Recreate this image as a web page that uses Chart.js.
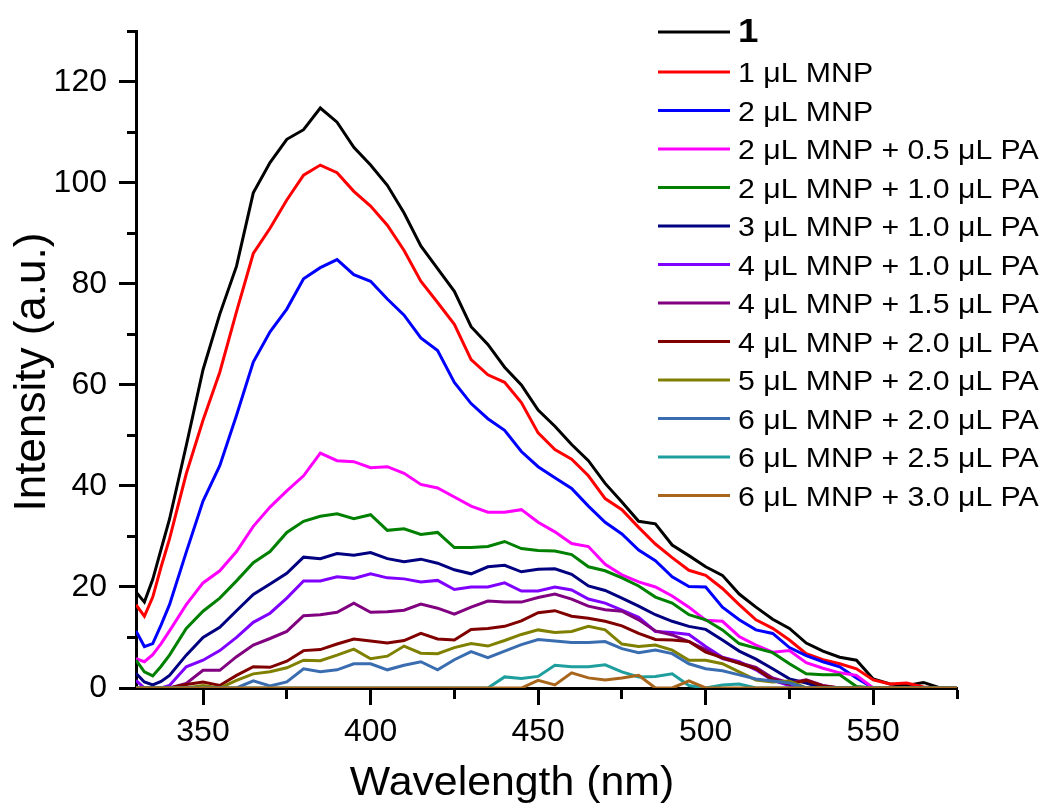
<!DOCTYPE html>
<html>
<head>
<meta charset="utf-8">
<script src="https://cdn.jsdelivr.net/npm/chart.js@4.4.1/dist/chart.umd.min.js"></script>
<style>
  html, body { margin: 0; padding: 0; background: #fff; }
  #wrap { width: 1044px; height: 808px; }
</style>
</head>
<body>
<div id="wrap"><canvas id="spectra" width="1044" height="808"></canvas></div>
<script>
// Emission spectra, values (nm / a.u.)

var wavelengths = [330, 332.5, 335, 337.5, 340, 345, 350, 355, 360, 365, 370, 375, 380, 385, 390, 395,
  400, 405, 410, 415, 420, 425, 430, 435, 440, 445, 450, 455, 460, 465, 470, 475, 480, 485, 490, 495,
  500, 505, 510, 515, 520, 525, 530, 535, 540, 545, 550, 555, 560, 565, 570, 575];

var pure = [19, 17, 21.5, 27.5, 33.4, 48, 63, 74, 83.5, 98, 104, 108.6, 110.5, 114.8, 112, 107,
  103.5, 99.5, 94, 87.5, 83, 78.5, 71.5, 68, 63.5, 60, 55, 51.8, 48.2, 45, 40.5, 36.8, 33, 32.5, 28.3, 26.2,
  24, 22.3, 18.6, 16, 13.6, 11.8, 8.9, 7.3, 6.1, 5.5, 1.8, 0.8, 0.5, 1.1, 0, 0];
var mnp1 = [16.5, 14.2, 18, 24, 29.5, 42.4, 53, 62.5, 74.5, 86, 91, 96.6, 101.5, 103.5, 102, 98.3,
  95.4, 91.6, 86.6, 80.5, 76.3, 72, 65, 62, 60.5, 56.5, 50.5, 47.2, 45.3, 42, 37.5, 35.3, 31.8, 28.5, 25.8, 23.3,
  22.3, 19.7, 16.5, 13.5, 11.8, 9.5, 6.8, 5.6, 4.8, 3.8, 1.6, 0.8, 1.0, 0.2, 0, 0];
var mnp2 = [11.3, 8.2, 8.8, 12.5, 16.5, 26.9, 37, 44, 54, 64.5, 70.5, 75, 81, 83.2, 84.8, 81.8,
  80.5, 77, 73.8, 69.3, 66.8, 60.5, 56.3, 53.3, 51, 46.8, 43.8, 41.6, 39.5, 36, 32.8, 30.5, 27.3, 25.2, 22, 20.1,
  20, 16, 13.5, 11.5, 10.8, 8, 6.4, 5.2, 4.2, 2, 0, 0, 0, 0, 0, 0];
var mnp2pa05 = [5.8, 5.2, 6.6, 8.8, 11.3, 16.5, 20.8, 23.2, 27, 32, 35.8, 39, 42, 46.5, 45, 44.8,
  43.6, 43.8, 42.5, 40.3, 39.6, 37.8, 36, 34.8, 34.8, 35.3, 32.8, 30.9, 28.6, 28, 24.5, 22.4, 21, 20, 18.2, 16,
  13.4, 13.2, 10.2, 8.5, 7.1, 7.4, 5, 3.9, 3, 2.5, 0, 0, 0, 0, 0, 0];
var mnp2pa10 = [5.5, 3.2, 2.4, 4.3, 6.5, 11.8, 15.2, 17.8, 21.2, 24.8, 27, 30.8, 33, 34, 34.5, 33.5,
  34.3, 31.2, 31.5, 30.4, 30.8, 27.8, 27.8, 28, 29, 27.6, 27.2, 27.1, 26.4, 24, 23.2, 21.8, 20.2, 18, 16.8, 14.5,
  13.5, 11.5, 8.8, 7.9, 7, 4.8, 2.8, 2.6, 2.6, 0.3, 0, 0, 0, 0, 0, 0];
var mnp3pa10 = [2.9, 1.2, 0.6, 1.3, 2.5, 6.5, 10, 12, 15.3, 18.5, 20.6, 22.7, 25.9, 25.6, 26.6, 26.3,
  26.8, 25.6, 25, 25.5, 24.7, 23.4, 22.6, 24, 24.3, 23, 23.5, 23.6, 22.5, 20.2, 19.3, 17.8, 16.2, 14.5, 13.2, 12.2,
  11.6, 9.5, 7.3, 5.7, 3.8, 1.8, 1, 0, 0, 0, 0, 0, 0, 0, 0, 0];
var mnp4pa10 = [1.5, 0, 0, 0, 0.5, 4.2, 5.5, 7.4, 10, 13, 14.8, 17.8, 21.2, 21.2, 22, 21.7,
  22.6, 21.8, 21.6, 21, 21.3, 19.5, 20, 20, 20.8, 19.2, 19.2, 20, 19.4, 17.6, 16.8, 15.4, 14, 11.2, 11, 10.6,
  8.2, 6.1, 5.2, 3.6, 1.5, 0.5, 0, 0, 0, 0, 0, 0, 0, 0, 0, 0];
var mnp4pa15 = [0, 0, 0, 0, 0, 0.9, 3.5, 3.5, 6.2, 8.5, 9.8, 11.2, 14.3, 14.5, 15, 16.8,
  15, 15.1, 15.4, 16.6, 15.8, 14.6, 16, 17.2, 17, 17, 17.9, 18.6, 17.6, 16.2, 15.5, 15.2, 13.5, 11.3, 10.5, 9.2,
  7.6, 5.8, 5, 4.1, 2, 1, 1.6, 0.5, 0, 0, 0, 0, 0, 0, 0, 0];
var mnp4pa20 = [0, 0, 0, 0, 0, 0.7, 1.2, 0.5, 2.5, 4.2, 4.1, 5.3, 7.4, 7.6, 8.7, 9.7,
  9.3, 8.9, 9.4, 10.8, 9.7, 9.5, 11.6, 11.8, 12.2, 13.3, 14.9, 15.3, 14.2, 13.8, 13.2, 12.3, 10.8, 9.6, 9.5, 9.2,
  7.1, 6, 4.9, 3.8, 1.6, 0.8, 1.5, 0.4, 0, 0, 0, 0, 0, 0, 0, 0];
var mnp5pa20 = [0, 0, 0, 0, 0, 0, 0.5, 0, 1.5, 2.8, 3.2, 4, 5.5, 5.4, 6.5, 7.7,
  5.8, 6.3, 8.3, 6.9, 6.8, 8, 8.8, 8.3, 9.4, 10.6, 11.5, 11, 11.2, 12.2, 11.5, 8.7, 8.2, 8.5, 7.5, 5.5,
  5.5, 4.8, 3.2, 1.6, 1.2, 1.4, 0, 0, 0, 0, 0, 0, 0, 0, 0, 0];
var mnp6pa20 = [0, 0, 0, 0, 0, 0, 0, 0, 0, 1.4, 0.4, 1.2, 3.8, 3.2, 3.6, 4.8,
  4.8, 3.6, 4.5, 5.2, 3.6, 5.6, 7.2, 6, 7.3, 8.6, 9.6, 9.3, 9, 9, 9.2, 7.8, 7, 7.5, 6.8, 4.8,
  3.8, 3.4, 2.6, 1.8, 1.4, 1, 0, 0, 0, 0, 0, 0, 0, 0, 0, 0];
var mnp6pa25 = [0, 0, 0, 0, 0, 0, 0, 0, 0, 0, 0, 0, 0, 0, 0, 0,
  0, 0, 0, 0, 0, 0, 0, 0, 2.2, 1.9, 2.3, 4.5, 4.2, 4.2, 4.6, 3.2, 2.2, 2.3, 2.8, 0.5,
  0, 0.6, 0.8, 0, 0, 0, 0, 0, 0, 0, 0, 0, 0, 0, 0, 0];
var mnp6pa30 = [0, 0, 0, 0, 0, 0, 0, 0, 0, 0, 0, 0, 0, 0, 0, 0,
  0, 0, 0, 0, 0, 0, 0, 0, 0, 0, 1.5, 0.6, 3, 2, 1.6, 2, 2.5, 0, 0, 1.4,
  0, 0, 0, 0, 0, 0, 0, 0, 0, 0, 0, 0, 0, 0, 0, 0];

var seriesLabels = ['1', '1 μL MNP', '2 μL MNP', '2 μL MNP + 0.5 μL PA', '2 μL MNP + 1.0 μL PA',
  '3 μL MNP + 1.0 μL PA', '4 μL MNP + 1.0 μL PA', '4 μL MNP + 1.5 μL PA', '4 μL MNP + 2.0 μL PA',
  '5 μL MNP + 2.0 μL PA', '6 μL MNP + 2.0 μL PA', '6 μL MNP + 2.5 μL PA', '6 μL MNP + 3.0 μL PA'];
var seriesValues = [pure, mnp1, mnp2, mnp2pa05, mnp2pa10, mnp3pa10, mnp4pa10, mnp4pa15, mnp4pa20,
  mnp5pa20, mnp6pa20, mnp6pa25, mnp6pa30];
var seriesColors = ['#000000', '#ff0000', '#0000ff', '#ff00ff', '#008000', '#000080', '#8000ff',
  '#800080', '#800000', '#808000', '#3a6db0', '#1f9e9e', '#a8661c'];

var xTitle = 'Wavelength (nm)';
var yTitle = 'Intensity (a.u.)';

var FONT = '"Liberation Sans", Arial, sans-serif';
Chart.defaults.font.family = FONT;
Chart.defaults.color = '#000';

var datasets = seriesValues.map(function (vals, i) {
  return {
    label: seriesLabels[i],
    data: wavelengths.map(function (w, j) { return { x: w, y: vals[j] }; }),
    borderColor: seriesColors[i],
    backgroundColor: seriesColors[i],
    borderWidth: 3,
    pointRadius: 0,
    tension: 0,
    fill: false,
    order: seriesValues.length - i   // later curves on top, like the original
  };
});

// legend in the upper right of the plot, plus the two axis titles
var decorations = {
  id: 'decorations',
  afterDraw: function (chart) {
    var ctx = chart.ctx;
    ctx.save();
    ctx.fillStyle = '#000';
    ctx.textBaseline = 'alphabetic';
    chart.data.datasets.forEach(function (ds, i) {
      var y = i === 0 ? 32 : 72 + (i - 1) * 38.5;
      ctx.strokeStyle = ds.borderColor;
      ctx.lineWidth = 3;
      ctx.beginPath();
      ctx.moveTo(658, y);
      ctx.lineTo(730, y);
      ctx.stroke();
      ctx.save();
      ctx.translate(738, y + 10);
      ctx.scale(1.08, 1);
      ctx.font = i === 0 ? 'bold 34px ' + FONT : '28px ' + FONT;
      ctx.fillText(ds.label, 0, 0);
      ctx.restore();
    });

    ctx.textAlign = 'center';
    ctx.save();
    ctx.translate(512, 795);
    ctx.scale(1.07, 1);
    ctx.font = '40px ' + FONT;
    ctx.fillText(xTitle, 0, 0);
    ctx.restore();

    ctx.save();
    ctx.translate(45, 372);
    ctx.rotate(-Math.PI / 2);
    ctx.font = '44px ' + FONT;
    ctx.fillText(yTitle, 0, 0);
    ctx.restore();
    ctx.restore();
  }
};

new Chart(document.getElementById('spectra'), {
  type: 'line',
  data: { datasets: datasets },
  plugins: [decorations],
  options: {
    responsive: false,
    animation: false,
    layout: { padding: { left: 0, right: 87, top: 20, bottom: 0 } },
    plugins: { legend: { display: false }, tooltip: { enabled: false } },
    scales: {
      x: {
        type: 'linear',
        min: 330,
        max: 575,
        afterFit: function (scale) { scale.height = 120; },
        border: { display: true, color: '#000', width: 3 },
        grid: {
          drawOnChartArea: false,
          drawTicks: true,
          tickLength: 17,
          tickWidth: 3,
          tickColor: '#000',
          tickBorderDash: function (c) { return c.tick && c.tick.value % 50 === 0 ? [] : [9, 100]; }
        },
        ticks: {
          stepSize: 25,
          includeBounds: false,
          autoSkip: false,
          maxTicksLimit: 100,
          maxRotation: 0,
          padding: 8,
          font: { size: 32 },
          callback: function (v) { return v % 50 === 0 ? v : ''; }
        }
      },
      y: {
        min: 0,
        max: 130,
        afterFit: function (scale) { scale.width = 136; },
        border: { display: true, color: '#000', width: 3 },
        grid: {
          drawOnChartArea: false,
          drawTicks: true,
          tickLength: 17,
          tickWidth: 3,
          tickColor: '#000',
          tickBorderDash: function (c) { return c.tick && c.tick.value % 20 === 0 ? [] : [0, 8, 9, 100]; }
        },
        ticks: {
          stepSize: 10,
          autoSkip: false,
          maxTicksLimit: 100,
          padding: 12,
          font: { size: 32 },
          callback: function (v) { return v % 20 === 0 ? v : ''; }
        }
      }
    }
  }
});
</script>
</body>
</html>
